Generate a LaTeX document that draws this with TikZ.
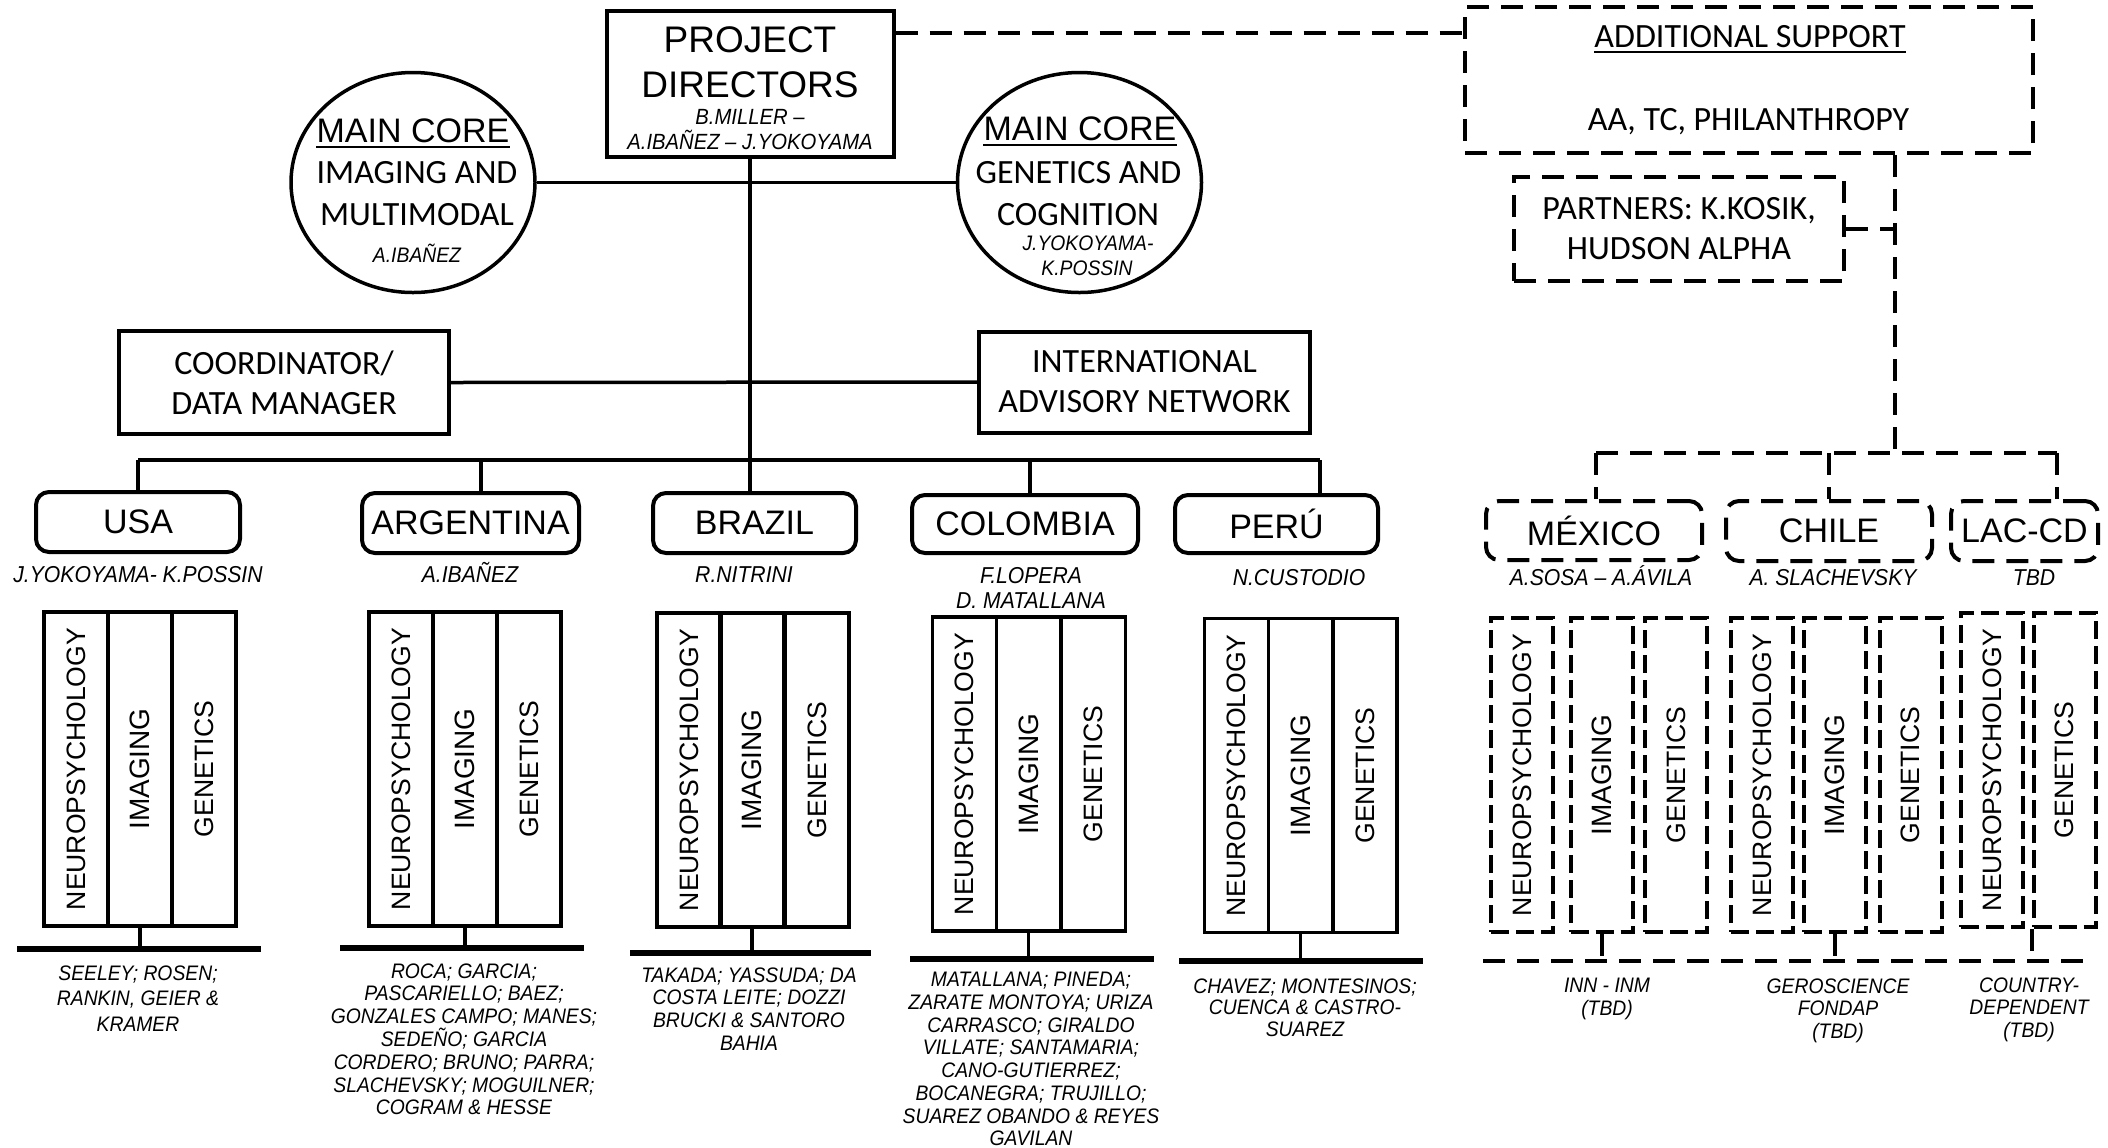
\documentclass[tikz,border=0pt]{standalone}
\usepackage{fontspec}
\usepackage{graphicx}
\setmainfont{Liberation Sans}
\newfontfamily\calfont{Carlito}
\newfontfamily\namefont[FakeStretch=0.92]{Liberation Sans}
\usetikzlibrary{shapes.geometric}

\begin{document}
\begin{tikzpicture}[x=0.5pt,y=-0.5pt,
  box/.style={draw,line width=2pt,inner sep=0pt,align=center},
  cbox/.style={box,rounded corners=6.5pt,minimum height=30pt,font=\fontsize{17pt}{20pt}\selectfont},
  col/.style={box,line width=1.9pt,minimum width=32pt,minimum height=157pt,font=\fontsize{13.3pt}{16pt}\selectfont},
  dsh/.style={line width=2pt,dash pattern=on 11pt off 6pt},
  dbox/.style={draw,dsh,inner sep=0pt,align=center},
  dcbox/.style={dbox,rounded corners=6.5pt,minimum height=30pt,font=\fontsize{17pt}{20pt}\selectfont},
  dcol/.style={draw,line width=2pt,dash pattern=on 9pt off 3.5pt,inner sep=0pt,minimum width=31pt,minimum height=157pt,font=\fontsize{13.3pt}{16pt}\selectfont},
  core/.style={draw,ellipse,line width=1.75pt,inner sep=0pt,minimum width=122pt,minimum height=110pt},
  link/.style={line width=1.75pt},
  bar/.style={line width=2.75pt},
  big/.style={inner sep=0pt,anchor=base,font=\fontsize{17pt}{20pt}\selectfont},
  cal/.style={inner sep=0pt,align=center,font=\calfont\fontsize{17pt}{20pt}\selectfont},
  who/.style={inner sep=0pt,anchor=base,font=\namefont\itshape\fontsize{11.5pt}{12.5pt}\selectfont},
  team/.style={inner sep=0pt,anchor=north,align=center,font=\namefont\itshape\fontsize{10.5pt}{11.35pt}\selectfont}]

\path[use as bounding box,fill=white] (0,0) rectangle (2108,1147);

\node[box,minimum width=143.5pt,minimum height=73pt] (pd) at (750,84) {};
\node[big,font=\fontsize{18.5pt}{22pt}\selectfont] (pdA) at (750,52) {PROJECT};
\node[big,font=\fontsize{18.5pt}{22pt}\selectfont] (pdB) at (750,97) {DIRECTORS};
\node[who,font=\namefont\itshape\fontsize{11pt}{12pt}\selectfont] (pdC) at (750,124) {B.MILLER –};
\node[who,font=\namefont\itshape\fontsize{11pt}{12pt}\selectfont] (pdD) at (750,149) {A.IBAÑEZ – J.YOKOYAMA};

\node[core] (mcL) at (413,182.5) {};
\node[big] (mcLa) at (413,142) {MAIN CORE};
\node[cal,anchor=base] (mcLb) at (417,183) {IMAGING AND};
\node[cal,anchor=base] (mcLc) at (417,225) {MULTIMODAL};
\node[who,font=\namefont\itshape\fontsize{10.5pt}{12pt}\selectfont] (mcLd) at (417,262) {A.IBAÑEZ};
\draw[line width=0.7pt] ([yshift=-2.5pt]mcLa.base west) -- ([yshift=-2.5pt]mcLa.base east);

\node[core] (mcR) at (1079.5,182.5) {};
\node[big] (mcRa) at (1080,140) {MAIN CORE};
\node[cal,anchor=base] (mcRb) at (1078.5,183) {GENETICS AND};
\node[cal,anchor=base] (mcRc) at (1078,225) {COGNITION};
\node[who,font=\namefont\itshape\fontsize{10.5pt}{12pt}\selectfont] (mcRd) at (1088,250) {J.YOKOYAMA-};
\node[who,font=\namefont\itshape\fontsize{10.5pt}{12pt}\selectfont] (mcRe) at (1087,275) {K.POSSIN};
\draw[line width=0.7pt] ([yshift=-2.5pt]mcRa.base west) -- ([yshift=-2.5pt]mcRa.base east);

\draw[link] (mcL.east) -- (mcR.west);

\node[box,cal,minimum width=165pt,minimum height=51.5pt] (crd) at (284,382.5) {COORDINATOR/\\DATA MANAGER};
\node[box,cal,minimum width=165.5pt,minimum height=50.5pt] (ian) at (1144.5,382) {INTERNATIONAL\\ADVISORY NETWORK};
\draw[link] (crd.east) -- (ian.west);

\node[cbox,minimum width=102pt] (usa) at (138,522) {USA};
\node[cbox,minimum width=108.5pt] (arg) at (470.5,523) {ARGENTINA};
\node[cbox,minimum width=101.5pt] (bra) at (754.5,523) {BRAZIL};
\node[cbox,minimum width=113pt,minimum height=29pt] (col) at (1025,524) {COLOMBIA};
\node[cbox,minimum width=101.5pt,minimum height=29pt] (per) at (1276.5,524) {PERÚ};

\coordinate (bU) at (138,460);
\coordinate (bA) at (481,460);
\coordinate (bC) at (1030,460);
\coordinate (bP) at (1320,460);
\draw[link] (pd.south) -- (pd.south |- bra.north);
\draw[link] (bU) -- (bP);
\draw[link] (bU) -- (usa.north);
\draw[link] (bA) -- (bA |- arg.north);
\draw[link] (bC) -- (bC |- col.north);
\draw[link] (bP) -- (bP |- per.north);

\node[who] (usaW) at (138,582) {J.YOKOYAMA- K.POSSIN};
\node[who] (argW) at (470,582) {A.IBAÑEZ};
\node[who] (braW) at (744,582) {R.NITRINI};
\node[who] (colW) at (1031,583) {F.LOPERA};
\node[who] (colV) at (1031,608) {D. MATALLANA};
\node[who] (perW) at (1299,585) {N.CUSTODIO};

\node[col] (usaN) at (76,769) {\rotatebox{90}{NEUROPSYCHOLOGY}};
\node[col] (usaI) at (140,769) {\rotatebox{90}{\fontsize{14pt}{16pt}\selectfont IMAGING}};
\node[col] (usaG) at (204,769) {\rotatebox{90}{GENETICS}};
\node[col] (argN) at (401,769) {\rotatebox{90}{NEUROPSYCHOLOGY}};
\node[col] (argI) at (465,769) {\rotatebox{90}{\fontsize{14pt}{16pt}\selectfont IMAGING}};
\node[col] (argG) at (529,769) {\rotatebox{90}{GENETICS}};
\node[col] (braN) at (689,770) {\rotatebox{90}{NEUROPSYCHOLOGY}};
\node[col] (braI) at (752,770) {\rotatebox{90}{\fontsize{14pt}{16pt}\selectfont IMAGING}};
\node[col] (braG) at (817,770) {\rotatebox{90}{GENETICS}};
\node[col] (colN) at (964.5,774) {\rotatebox{90}{NEUROPSYCHOLOGY}};
\node[col] (colI) at (1028.5,774) {\rotatebox{90}{\fontsize{14pt}{16pt}\selectfont IMAGING}};
\node[col] (colG) at (1093.5,774) {\rotatebox{90}{GENETICS}};
\node[col] (perN) at (1236.5,775.5) {\rotatebox{90}{NEUROPSYCHOLOGY}};
\node[col] (perI) at (1300.5,775.5) {\rotatebox{90}{\fontsize{14pt}{16pt}\selectfont IMAGING}};
\node[col] (perG) at (1365,775.5) {\rotatebox{90}{GENETICS}};

\coordinate (usaL) at (17,949);
\coordinate (usaR) at (261,949);
\coordinate (argL) at (340,948);
\coordinate (argR) at (584,948);
\coordinate (braL) at (630,953);
\coordinate (braR) at (871,953);
\coordinate (colL) at (910,959);
\coordinate (colR) at (1154,959);
\coordinate (perL) at (1179,961);
\coordinate (perR) at (1423,961);
\draw[bar] (usaL) -- (usaR);
\draw[bar] (argL) -- (argR);
\draw[bar] (braL) -- (braR);
\draw[bar] (colL) -- (colR);
\draw[bar] (perL) -- (perR);
\draw[link] (usaI.south) -- (usaI.south |- usaL);
\draw[link] (argI.south) -- (argI.south |- argL);
\draw[link] (braI.south) -- (braI.south |- braL);
\draw[link] (colI.south) -- (colI.south |- colL);
\draw[link] (perI.south) -- (perI.south |- perL);

\node[team,font=\namefont\itshape\fontsize{10.5pt}{12.75pt}\selectfont] (usaT) at (138,965) {SEELEY; ROSEN;\\RANKIN, GEIER \&\\KRAMER};
\node[team,font=\namefont\itshape\fontsize{10.5pt}{11.4pt}\selectfont] (argT) at (464,963) {ROCA; GARCIA;\\PASCARIELLO; BAEZ;\\GONZALES CAMPO; MANES;\\SEDEÑO; GARCIA\\CORDERO; BRUNO; PARRA;\\SLACHEVSKY; MOGUILNER;\\COGRAM \& HESSE};
\node[team] (braT) at (749,967) {TAKADA; YASSUDA; DA\\COSTA LEITE; DOZZI\\BRUCKI \& SANTORO\\BAHIA};
\node[team] (colT) at (1031,972) {MATALLANA; PINEDA;\\ZARATE MONTOYA; URIZA\\CARRASCO; GIRALDO\\VILLATE; SANTAMARIA;\\CANO-GUTIERREZ;\\BOCANEGRA; TRUJILLO;\\SUAREZ OBANDO \& REYES\\GAVILAN};
\node[team,font=\namefont\itshape\fontsize{10.5pt}{10.75pt}\selectfont] (perT) at (1305,978) {CHAVEZ; MONTESINOS;\\CUENCA \& CASTRO-\\SUAREZ};

\node[dbox,minimum width=284pt,minimum height=73pt] (as) at (1749,80) {};
\node[cal,anchor=base] (asA) at (1750,47) {ADDITIONAL SUPPORT};
\node[cal,anchor=base] (asB) at (1748.5,130) {AA, TC, PHILANTHROPY};
\draw[line width=0.7pt] ([yshift=-2.5pt]asA.base west) -- ([yshift=-2.5pt]asA.base east);
\node[dbox,cal,minimum width=165pt,minimum height=52pt] (prt) at (1679,229) {PARTNERS: K.KOSIK,\\HUDSON ALPHA};

\coordinate (dY) at (0,33);
\coordinate (hub) at (1895,453);
\coordinate (hM) at (1596,453);
\coordinate (hL) at (2057,453);
\draw[dsh] (pd.east |- dY) -- (as.west |- dY);
\draw[dsh] (as.south -| hub) -- (hub);
\draw[dsh] (prt.east) -- (prt.east -| hub);
\draw[dsh] (hM) -- (hL);

\node[dcbox,minimum width=108pt,minimum height=29.5pt] (mex) at (1594,530.5) {MÉXICO};
\node[dcbox,minimum width=103pt] (chi) at (1829,531) {CHILE};
\node[dcbox,minimum width=73.5pt] (lac) at (2024.5,531) {LAC-CD};
\draw[dsh] (hM) -- (hM |- mex.north);
\draw[dsh] (chi.north |- hub) -- (chi.north);
\draw[dsh] (hL) -- (hL |- lac.north);

\node[who] (mexW) at (1601,585) {A.SOSA – A.ÁVILA};
\node[who] (chiW) at (1833,585) {A. SLACHEVSKY};
\node[who] (lacW) at (2034,585) {TBD};

\node[dcol] (mexN) at (1522,775) {\rotatebox{90}{NEUROPSYCHOLOGY}};
\node[dcol] (mexI) at (1601.5,775) {\rotatebox{90}{\fontsize{14pt}{16pt}\selectfont IMAGING}};
\node[dcol] (mexG) at (1676,775) {\rotatebox{90}{GENETICS}};
\node[dcol] (chiN) at (1762,775) {\rotatebox{90}{NEUROPSYCHOLOGY}};
\node[dcol] (chiI) at (1834.5,775) {\rotatebox{90}{\fontsize{14pt}{16pt}\selectfont IMAGING}};
\node[dcol] (chiG) at (1910.5,775) {\rotatebox{90}{GENETICS}};
\node[dcol] (lacN) at (1992,770) {\rotatebox{90}{NEUROPSYCHOLOGY}};
\node[dcol] (lacG) at (2064.5,770) {\rotatebox{90}{GENETICS}};

\coordinate (dL) at (1483,961);
\coordinate (dR) at (2084,961);
\draw[dsh] (dL) -- (dR);
\draw[dsh] (mexI.south) -- (mexI.south |- dL);
\draw[dsh] (chiI.south) -- (chiI.south |- dL);
\draw[dsh] (lacG.south west) -- (lacG.south west |- dL);

\node[team,font=\namefont\itshape\fontsize{10.5pt}{11.5pt}\selectfont] (mexT) at (1607,978) {INN - INM\\(TBD)};
\node[team,font=\namefont\itshape\fontsize{10.5pt}{11.25pt}\selectfont] (chiT) at (1838,978) {GEROSCIENCE\\FONDAP\\(TBD)};
\node[team,font=\namefont\itshape\fontsize{10.5pt}{11.25pt}\selectfont] (lacT) at (2029,977) {COUNTRY-\\DEPENDENT\\(TBD)};

\end{tikzpicture}
\end{document}
